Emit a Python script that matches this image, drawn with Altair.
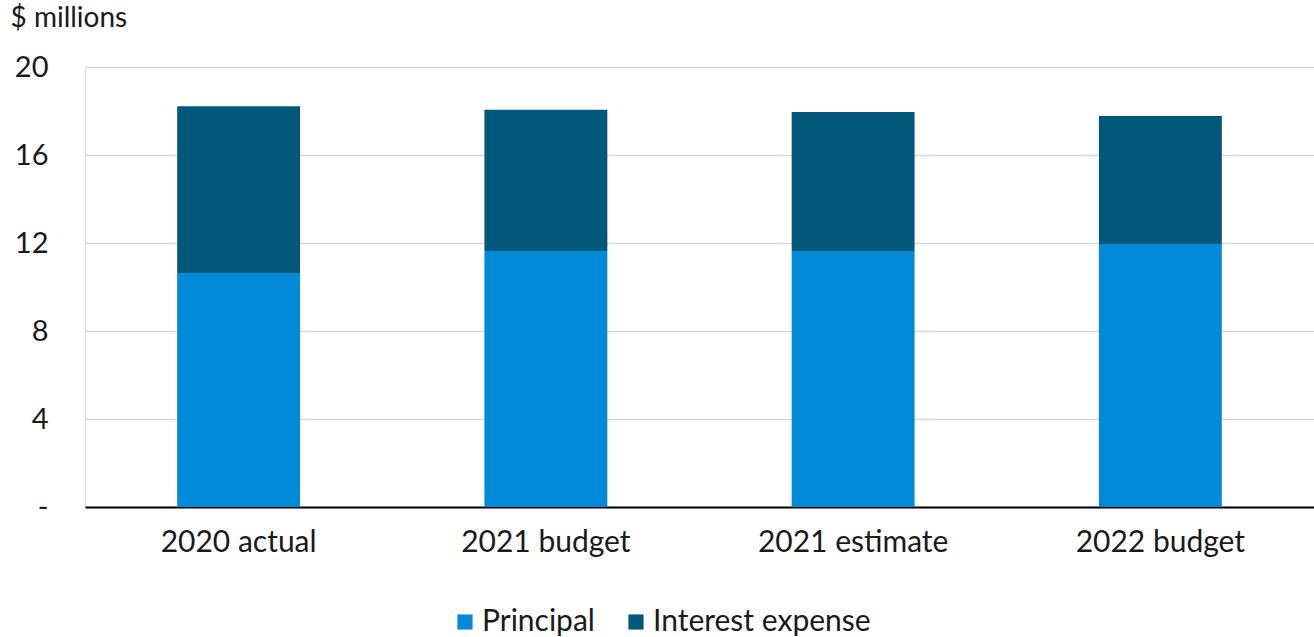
import altair as alt
import pandas as pd

categories = ["2020 actual", "2021 budget", "2021 estimate", "2022 budget"]
principal = [10.64, 11.64, 11.64, 11.95]
interest = [7.58, 6.42, 6.31, 5.82]
series = ["Principal", "Interest expense"]
colors = ["#028AD9", "#02587A"]
y_ticks = [0, 4, 8, 12, 16, 20]

rows = []
for c, p, i in zip(categories, principal, interest):
    rows.append({"cat": c, "series": series[0], "value": p, "ord": 0})
    rows.append({"cat": c, "series": series[1], "value": i, "ord": 1})
df = pd.DataFrame(rows)

FONT = "Lato"

chart = alt.Chart(df).mark_bar().encode(
    x=alt.X("cat:N", sort=categories,
            scale=alt.Scale(paddingInner=0.6, paddingOuter=0.3),
            axis=alt.Axis(title=None, labelAngle=0, ticks=False, domainColor="#000000",
                          domainWidth=2, labelPadding=20, labelFontSize=30, labelLimit=0,
                          labelColor="#1a1a1a", labelFont=FONT, grid=False)),
    y=alt.Y("value:Q", stack="zero",
            scale=alt.Scale(domain=[0, 20], nice=False),
            axis=alt.Axis(values=y_ticks, title="$ millions", titleAngle=0,
                          titleAlign="left", titleBaseline="top", titleX=-75, titleY=-63,
                          titleFontSize=28, titleFontWeight="normal", titleColor="#1a1a1a",
                          titleFont=FONT,
                          labelExpr="datum.value == 0 ? '-' : datum.label",
                          labelFontSize=29, labelColor="#1a1a1a", labelFont=FONT,
                          labelPadding=37, ticks=False, domain=False,
                          gridColor="#D9D9D9", gridWidth=1.5)),
    color=alt.Color("series:N", scale=alt.Scale(domain=series, range=colors),
                    legend=alt.Legend(title=None, orient="none", legendX=365, legendY=540,
                                      direction="horizontal", symbolType="square",
                                      symbolSize=230, symbolStrokeWidth=0,
                                      labelFontSize=30, labelFont=FONT, labelColor="#1a1a1a",
                                      labelLimit=0, columnPadding=26, labelOffset=2)),
    order=alt.Order("ord:Q"),
).properties(
    width=1229, height=440,
    autosize=alt.AutoSizeParams(type="none"),
    padding={"left": 85, "top": 67, "right": 0, "bottom": 130},
).configure_view(stroke=None).configure(background="white")

chart.save("out.html", embed_options={"renderer": "svg", "actions": False})
